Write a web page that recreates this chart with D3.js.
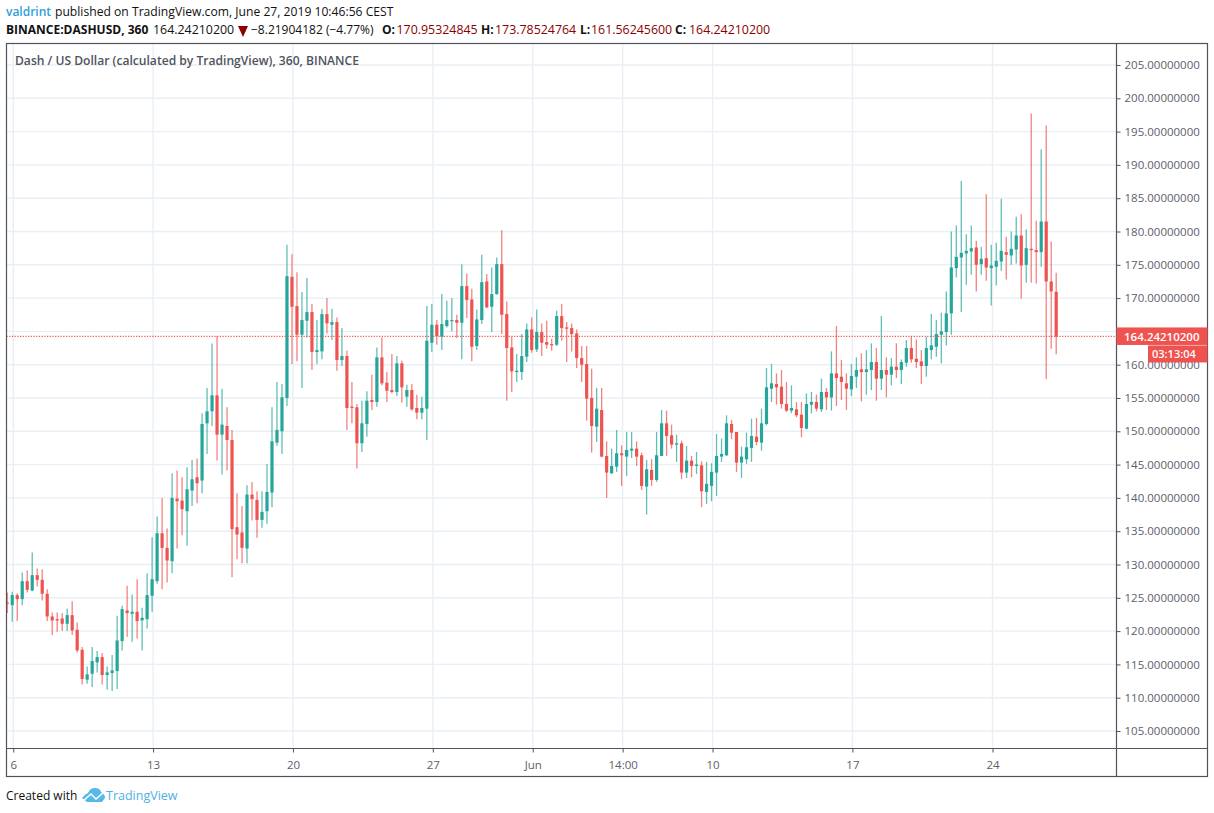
<!DOCTYPE html>
<html><head><meta charset="utf-8">
<script src="https://cdn.jsdelivr.net/npm/d3@7/dist/d3.min.js"></script>
<style>html,body{margin:0;padding:0;background:#fff}svg{display:block}text{font-family:"Open Sans","Noto Sans",sans-serif}</style>
</head><body><svg id="c" width="1214" height="813"></svg>
<script>
const opens=[124.3,123.9,125.4,124.8,127.5,126.1,128.4,127.7,125.6,122.2,
121.8,121.9,121.1,122.4,120.2,117.2,112.7,113.6,115.3,116.1,
113.4,113.7,114.0,118.5,123.1,122.6,122.9,121.6,121.8,125.3,
127.5,134.7,132.5,130.5,139.9,139.6,138.0,141.1,143.1,142.6,
151.2,153.0,155.4,149.5,150.8,148.7,135.6,134.8,132.4,140.5,
139.7,136.7,138.0,140.8,148.3,150.0,155.0,173.2,168.8,164.5,
166.6,167.9,161.9,162.0,167.6,166.0,166.4,160.7,161.3,153.7,
153.6,148.2,151.1,154.7,154.4,161.1,157.3,156.2,155.9,160.2,
155.2,156.2,153.5,152.8,153.4,163.3,166.0,164.2,165.8,166.6,
166.7,166.3,171.8,169.8,162.8,166.7,172.5,168.7,170.6,175.1,
167.6,162.6,158.9,158.9,161.2,165.3,162.3,164.9,163.4,163.1,
163.0,167.3,165.6,165.5,164.7,161.0,160.1,155.0,150.7,153.2,
146.3,143.7,144.7,146.7,146.2,147.1,147.4,146.4,141.7,144.2,
142.7,146.3,151.2,149.4,148.0,148.2,143.8,145.6,144.8,144.9,
140.9,141.8,143.8,146.2,146.4,151.1,149.9,145.3,145.8,147.5,
149.2,148.3,151.1,156.4,157.1,156.7,154.1,153.1,153.3,152.5,
150.4,154.0,154.4,153.3,155.9,155.1,158.7,158.2,157.2,156.3,
158.2,159.3,158.9,159.2,160.4,157.9,159.2,158.5,159.7,159.2,
160.3,162.5,160.9,160.5,159.8,162.2,162.7,164.5,164.9,167.7,
174.5,176.1,176.7,177.0,177.6,175.1,176.0,174.5,174.7,175.5,
176.9,176.4,177.3,179.4,175.0,177.4,177.2,176.9,181.5,172.5,170.95];
const highs=[125.8,125.9,125.7,128.8,129.1,131.8,129.4,129.3,126.3,122.8,
122.8,122.7,123.4,124.5,121.3,117.6,114.7,117.6,117.0,116.7,
114.7,116.4,122.3,123.8,126.8,125.5,127.8,123.5,128.7,134.1,
137.2,140.0,135.4,143.7,144.1,143.1,144.6,145.7,145.9,152.7,
156.5,163.2,164.3,156.4,153.6,150.2,140.7,138.8,141.9,142.4,
141.0,141.0,145.1,153.6,157.4,157.1,178.0,176.6,173.9,170.9,
173.0,169.1,166.7,168.4,170.0,168.4,167.1,165.5,162.1,157.4,
154.1,154.6,156.0,158.5,162.6,164.1,158.9,161.6,161.3,160.6,
157.0,157.1,155.5,155.2,168.8,169.1,166.7,170.6,169.6,170.0,
167.5,175.1,173.7,171.4,168.3,176.5,173.6,174.6,176.1,180.2,
169.5,164.2,161.6,164.6,166.2,167.1,168.3,166.2,166.6,163.9,
168.1,169.1,166.4,166.2,165.3,162.8,162.8,159.4,156.5,156.5,
148.5,147.4,150.2,147.9,149.9,149.9,148.5,146.8,145.7,145.8,
149.9,153.2,153.1,151.0,149.5,148.6,147.8,146.3,146.9,145.5,
145.4,145.2,149.6,148.9,152.4,151.7,149.9,147.7,149.8,151.9,
152.0,153.4,159.5,160.1,158.7,159.2,157.4,156.9,154.4,154.4,
155.7,155.9,155.5,157.9,156.5,162.0,165.8,160.7,158.7,160.1,
161.1,161.7,162.2,163.2,162.5,167.3,161.1,161.0,163.2,160.8,
163.7,164.3,163.8,162.2,164.2,167.6,166.7,167.8,171.0,180.0,
180.9,187.6,179.6,180.9,178.6,177.7,185.6,178.0,178.3,184.9,
179.2,180.0,182.2,182.6,180.3,197.7,181.6,192.3,195.9,178.5,173.79];
const lows=[122.7,121.4,121.5,123.9,125.8,126.0,126.7,124.6,121.5,119.4,
119.9,120.0,120.0,119.4,116.8,112.0,112.1,111.6,113.8,112.0,
111.2,111.0,111.3,117.1,119.1,118.4,118.9,117.1,120.4,122.9,
127.1,126.3,127.3,128.7,132.4,134.4,132.8,138.8,139.2,140.7,
146.6,150.8,145.6,143.5,144.1,128.1,130.8,130.2,130.2,136.6,
134.0,135.5,136.1,138.6,147.8,146.6,153.8,160.1,160.5,156.5,
164.1,159.2,160.1,160.8,164.7,163.7,159.1,159.8,150.2,151.2,
144.4,146.9,149.2,153.2,153.7,156.9,154.4,155.7,155.3,154.3,
153.7,153.1,151.8,151.8,148.7,161.9,163.0,162.2,165.6,165.0,
164.0,160.8,167.0,160.5,162.2,166.1,168.5,164.9,170.5,164.6,
154.6,155.9,157.4,157.7,160.4,161.8,161.9,161.3,162.4,162.1,
162.8,163.6,160.4,162.0,159.5,157.4,151.6,146.8,148.4,146.1,
140.0,143.6,143.9,141.8,143.3,146.0,144.8,141.2,137.5,141.8,
142.4,146.3,146.3,147.4,145.4,142.8,143.0,143.1,143.6,138.6,
139.1,139.5,140.3,145.4,146.3,148.8,143.9,143.0,145.1,145.4,
147.9,147.1,150.9,154.4,154.0,153.4,152.9,152.7,152.1,149.1,
150.3,152.7,153.0,152.9,153.2,153.1,153.8,154.7,153.2,155.3,
156.5,154.5,155.5,156.2,154.6,156.2,155.1,156.9,158.0,157.1,
159.7,160.3,159.5,157.1,158.2,160.8,161.2,160.2,162.9,164.5,
173.1,167.9,172.0,173.5,171.0,173.5,172.6,168.9,171.9,174.1,
172.8,175.0,175.2,169.9,172.3,172.3,172.2,174.7,157.8,162.4,161.56];
const closes=[124.1,125.4,124.8,127.5,126.2,128.4,127.7,125.6,122.2,121.6,
121.6,121.1,122.4,120.1,117.1,112.8,113.5,115.5,116.1,113.4,
113.8,114.1,118.6,123.3,122.7,122.9,121.5,122.0,125.4,127.8,
134.7,132.5,130.6,140.0,139.5,138.3,141.3,142.8,142.2,151.1,
153.0,155.4,149.5,151.0,148.7,135.3,134.5,132.5,140.5,139.8,
136.7,137.9,140.9,148.5,150.2,155.1,173.3,168.7,164.5,166.7,
167.9,161.9,162.2,167.6,166.2,166.4,160.7,161.3,153.5,153.5,
148.2,151.2,154.6,154.4,161.1,157.2,156.1,155.9,160.2,156.6,
156.2,153.3,152.8,153.5,163.6,166.0,164.3,166.1,166.7,166.7,
166.3,171.8,169.7,162.7,166.8,172.4,168.6,170.6,175.1,167.5,
162.5,159.0,159.1,161.3,165.3,162.2,164.9,163.3,163.0,163.0,
167.3,165.5,165.4,164.6,161.0,160.0,154.9,150.8,153.4,146.2,
143.8,144.8,146.7,146.4,147.2,147.4,146.2,141.8,144.3,142.7,
146.4,151.2,149.3,148.0,148.2,143.8,145.6,144.8,145.0,141.0,
142.1,143.9,146.3,146.6,151.2,149.8,145.3,146.2,147.6,149.3,
148.4,151.2,156.6,157.2,156.6,154.1,153.1,153.5,152.4,150.5,
154.1,154.4,153.4,155.9,155.1,158.7,158.0,157.4,156.4,158.3,
159.2,158.9,159.3,160.4,157.9,159.2,158.5,159.7,159.2,160.4,
162.5,160.8,160.4,159.8,162.5,162.9,164.6,165.0,167.7,174.6,
176.2,176.8,177.1,177.5,175.0,175.9,174.6,174.9,175.6,177.1,
176.5,177.4,179.4,174.9,177.5,177.2,176.9,181.5,172.5,171.0,164.24];
const priceTicks=d3.range(105,206,5);
const hiddenPriceLabel=165;
const timeTickIdx=[1.2,29.2,57.2,85.2,105.2,123.2,141.2,169.2,197.25];
const timeTickLabels=["6","13","20","27","Jun","14:00","10","17","24"];
const lastPrice=164.242102;
const countdown="03:13:04";

const UP="#26a69a",DN="#ef5350",GRID="#e9eff5",FRAME="#50535e",TXT="#5d606b";
const svg=d3.select("#c");
const L=6.5,T=43.5,R=1207.5,B=776.5,AX=1116.5,AY=748.5;
const y=d3.scaleLinear().domain([105,205]).range([731,65]);
const x=d3.scaleLinear().domain([0,210]).range([7.25,7.25+4.995*210]);
const tickName=new Map(timeTickIdx.map((t,i)=>[t,timeTickLabels[i]]));

// grid
svg.append("g").selectAll("line").data(priceTicks).join("line")
 .attr("x1",L).attr("x2",AX).attr("y1",d=>y(d)).attr("y2",d=>y(d)).attr("stroke",GRID).attr("stroke-width",1.4);
svg.append("g").selectAll("line").data(timeTickIdx).join("line")
 .attr("x1",d=>x(d)).attr("x2",d=>x(d)).attr("y1",T).attr("y2",AY).attr("stroke",GRID).attr("stroke-width",1.4);

// candles
svg.append("clipPath").attr("id","pane").append("rect").attr("x",L).attr("y",T).attr("width",AX-L).attr("height",AY-T);
const cg=svg.append("g").attr("clip-path","url(#pane)");
const idx=d3.range(opens.length);
const col=i=>closes[i]>=opens[i]?UP:DN;
cg.append("g").selectAll("line").data(idx).join("line")
 .attr("x1",i=>x(i)).attr("x2",i=>x(i)).attr("y1",i=>y(highs[i])).attr("y2",i=>y(lows[i]))
 .attr("stroke",col).attr("stroke-width",1.3).attr("stroke-opacity",0.72);
cg.append("g").selectAll("rect").data(idx).join("rect")
 .attr("x",i=>x(i)-1.6).attr("width",3.2)
 .attr("y",i=>y(Math.max(opens[i],closes[i])))
 .attr("height",i=>Math.max(1.2,Math.abs(y(opens[i])-y(closes[i]))))
 .attr("fill",col);

// last price line
svg.append("line").attr("x1",L).attr("x2",AX).attr("y1",y(lastPrice)).attr("y2",y(lastPrice))
 .attr("stroke",DN).attr("stroke-width",1.2).attr("stroke-dasharray","1.2 1.5");

// frame
const fr=svg.append("g").attr("stroke",FRAME).attr("stroke-width",1.2).attr("fill","none");
fr.append("rect").attr("x",L).attr("y",T).attr("width",R-L).attr("height",B-T);
fr.append("line").attr("x1",AX).attr("x2",AX).attr("y1",T).attr("y2",B);
fr.append("line").attr("x1",L).attr("x2",R).attr("y1",AY).attr("y2",AY);

// price axis (the 165 label sits behind the last-price tag in the reference)
const pa=svg.append("g").attr("transform",`translate(${AX},0)`)
 .call(d3.axisRight(y).tickValues(priceTicks).tickSize(4).tickPadding(4).tickFormat(d=>d===hiddenPriceLabel?"":d.toFixed(8)));
pa.select(".domain").remove();
pa.selectAll("line").attr("stroke",FRAME);
pa.selectAll("text").attr("fill",TXT).style("font-size","11.5px").style("font-family",'"Open Sans"');

// time axis
const ta=svg.append("g").attr("transform",`translate(0,${AY})`)
 .call(d3.axisBottom(x).tickValues(timeTickIdx).tickSize(4).tickPadding(8).tickFormat(d=>tickName.get(d)));
ta.select(".domain").remove();
ta.selectAll("line").attr("stroke",FRAME);
ta.selectAll("text").attr("fill",TXT).style("font-size","11.5px").style("font-family",'"Open Sans"');

// last-price labels
svg.append("rect").attr("x",AX).attr("y",y(lastPrice)-9).attr("width",R-AX).attr("height",17.5).attr("fill",DN);
svg.append("rect").attr("x",1148).attr("y",y(lastPrice)+9).attr("width",R-1148).attr("height",17).attr("fill",DN);
svg.append("text").attr("x",1124).attr("y",y(lastPrice)+4.2).attr("fill","#fff").style("font-size","11.5px").style("font-weight",600).text(lastPrice.toFixed(8));
svg.append("text").attr("x",1152).attr("y",y(lastPrice)+22).attr("fill","#fff").style("font-size","11px").style("font-weight",600).text(countdown);

// header
const hdr=(x,y,s,fill,w,size)=>svg.append("text").attr("x",x).attr("y",y).attr("fill",fill||"#111").style("font-size",(size||12)+"px").style("font-weight",w||400).text(s);
hdr(6,16,"valdrint","#2f9fd8",600);
hdr(55,16,"published on TradingView.com, June 27, 2019 10:46:56 CEST","#111",400,12.15);
hdr(6,34,"BINANCE:DASHUSD, 360","#111",700);
hdr(153,34,"164.24210200","#111",400,12.4);
svg.append("path").attr("d","M238 26H248L243 37Z").attr("fill","#8b0000");
hdr(251,34,"−8.21904182 (−4.77%)");
const vals=[["O:","170.95324845",382,14.5],["H:","173.78524764",481,14],["L:","161.56245600",580,11],["C:","164.24210200",675,14]];
vals.forEach(([k,v,px,off])=>{hdr(px,34,k,"#111",700);hdr(px+off,34,v,"#8b0000",400,12.4);});
hdr(15,65,"Dash / US Dollar (calculated by TradingView), 360, BINANCE","#50535e",600,12.1);

// footer
hdr(6,800,"Created with","#111",400,12);
svg.append("path").attr("d","M82 798Q85 794 88 793Q90 788 95 788Q100 788 101 792Q105 794 105 798L102 802H87Z").attr("fill","#55bae8");
svg.append("path").attr("d","M83 801L91 794L96 799L104 792").attr("fill","none").attr("stroke","#fff").attr("stroke-width",1.6);
hdr(106,800,"TradingView","#4fb0e4",400,12.5);
</script></body></html>
